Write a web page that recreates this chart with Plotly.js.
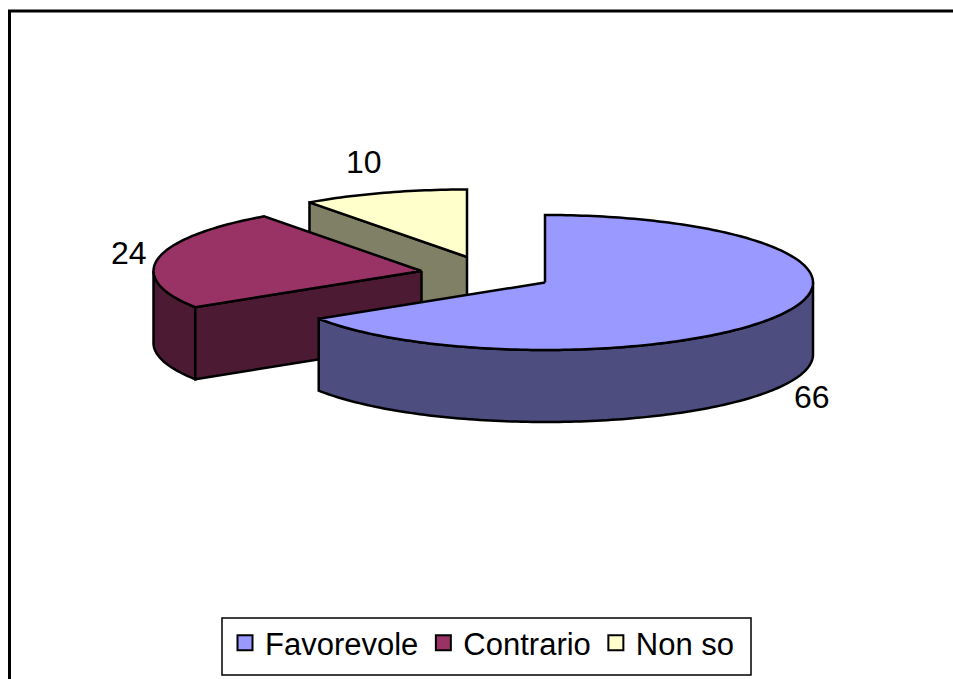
<!DOCTYPE html>
<html>
<head>
<meta charset="utf-8">
<script src="https://cdn.plot.ly/plotly-3.0.1.min.js"></script>
<style>html,body{margin:0;padding:0;background:#fff}#chart{width:953px;height:679px}</style>
</head>
<body>
<div id="chart"></div>
<script>
var categories = ["Favorevole", "Contrario", "Non so"];
var values = [66, 24, 10];
var topColors = ["#9999ff", "#993366", "#ffffcc"];
var sideColors = ["#4d4d80", "#4d1a33", "#808066"];

// Projection of the tilted pie, in axis units (the axes span the page in pixels)
var radiusX = 268, radiusY = 67.5, depth = 72;
var apexX = [545, 421.5, 467];
var apexY = [282.5, 271, 257];
var labelX = [812, 129, 364];
var labelY = [397, 253, 162];

var total = values.reduce(function (a, b) { return a + b; }, 0);
var starts = [], ends = [], run = 0;
values.forEach(function (v) {
  starts.push(run / total * 2 * Math.PI);
  run += v;
  ends.push(run / total * 2 * Math.PI);
});

function point(i, a) {
  return [apexX[i] + radiusX * Math.sin(a), apexY[i] - radiusY * Math.cos(a)];
}
function arc(i, a0, a1) {
  var n = Math.max(2, Math.ceil(Math.abs(a1 - a0) / 0.02)), pts = [];
  for (var k = 0; k <= n; k++) pts.push(point(i, a0 + (a1 - a0) * k / n));
  return pts;
}
function shift(pts) { return pts.map(function (p) { return [p[0], p[1] + depth]; }); }
function poly(pts, fill) {
  var c = pts.concat([pts[0]]);
  return {
    type: "scatter", mode: "lines", fill: "toself", fillcolor: fill,
    x: c.map(function (p) { return p[0]; }), y: c.map(function (p) { return p[1]; }),
    line: { color: "#000", width: 2.5, simplify: false },
    showlegend: false, hoverinfo: "skip"
  };
}

var traces = [];
var apexPt = function (i) { return [apexX[i], apexY[i]]; };

// Non so: only the wall running from the centre to its first edge shows
var y = 2, a0y = point(y, starts[y]);
traces.push(poly([apexPt(y), a0y].concat(shift([a0y, apexPt(y)])), sideColors[y]));
traces.push(poly([apexPt(y)].concat(arc(y, starts[y], ends[y])), topColors[y]));

// Contrario: outer rim on its left part and the wall at its first edge
var r = 1, a0r = point(r, starts[r]);
var rimStart = 1.5 * Math.PI;
var rimR = arc(r, starts[r], rimStart);
traces.push(poly(rimR.concat(shift(rimR).reverse()), sideColors[r]));
traces.push(poly([apexPt(r), a0r].concat(shift([a0r, apexPt(r)])), sideColors[r]));
traces.push(poly([apexPt(r)].concat(arc(r, starts[r], ends[r])), topColors[r]));

// Favorevole: outer rim along the front
var b = 0;
var rimB = arc(b, 0.5 * Math.PI, ends[b]);
traces.push(poly(rimB.concat(shift(rimB).reverse()), sideColors[b]));
traces.push(poly([apexPt(b)].concat(arc(b, starts[b], ends[b])), topColors[b]));

// Legend entries
categories.forEach(function (name, i) {
  traces.push({
    type: "scatter", mode: "markers", name: name, x: [null], y: [null],
    marker: { symbol: "square", size: 15, color: topColors[i], line: { color: "#000", width: 2 } },
    hoverinfo: "skip"
  });
});

var font = "Liberation Sans, Arial, sans-serif";
var layout = {
  width: 953, height: 679,
  margin: { l: 0, r: 0, t: 0, b: 0 },
  paper_bgcolor: "#fff", plot_bgcolor: "#fff",
  xaxis: { range: [0, 953], visible: false, fixedrange: true },
  yaxis: { range: [679, 0], visible: false, fixedrange: true },
  showlegend: true,
  legend: {
    orientation: "h", x: 225 / 953, y: 1 - 616 / 679, xanchor: "left", yanchor: "top",
    bgcolor: "rgba(0,0,0,0)", borderwidth: 0,
    font: { family: font, size: 31, color: "#000" },
    itemwidth: 30, tracegroupgap: 0, traceorder: "normal"
  },
  shapes: [
    { type: "path", xref: "x", yref: "y", path: "M9.5,679 L9.5,11 L953,11", line: { color: "#000", width: 3 } },
    { type: "rect", xref: "x", yref: "y", x0: 222, x1: 751, y0: 618, y1: 675, line: { color: "#000", width: 1.5 }, fillcolor: "#fff", layer: "below" }
  ],
  annotations: values.map(function (v, i) {
    return {
      x: labelX[i], y: labelY[i], xref: "x", yref: "y", text: String(v), showarrow: false,
      xanchor: "center", yanchor: "middle",
      font: { family: font, size: 32, color: "#000" }
    };
  })
};
Plotly.newPlot("chart", traces, layout, { displayModeBar: false, staticPlot: true });
</script>
</body>
</html>
